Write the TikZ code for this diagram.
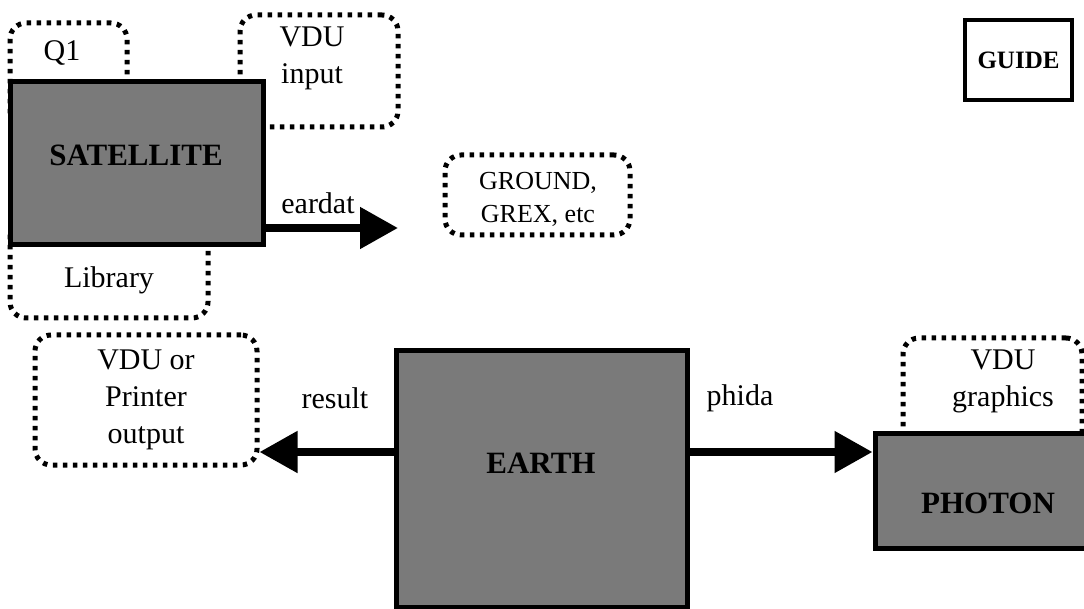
\documentclass[tikz,border=0pt]{standalone}
\usepackage{fontspec}
\setmainfont{Liberation Serif}
\usetikzlibrary{arrows.meta}
\begin{document}
\begin{tikzpicture}[x=1pt,y=-1pt,
  every node/.style={font=\fontsize{30}{37}\selectfont, align=center, inner sep=0pt},
  dotbox/.style={draw, line width=5pt, dash pattern=on 4.5pt off 5.5pt, rounded corners=16pt},
  shadebox/.style={draw, line width=5pt, fill=black!52},
  guidebox/.style={draw, line width=3.5pt, fill=white},
  arr/.style={line width=8pt, -{Triangle[length=38pt,width=40pt]}},
  boldtext/.style={font=\fontsize{31}{37}\selectfont\bfseries}]
\useasboundingbox (0,0) rectangle (1084,609);

% dotted boxes (behind)
\node[dotbox, minimum width=117pt, minimum height=107pt] (q1box) at (68.5,76.5) {};
\node (q1) at (62,53) {Q1};
\node[dotbox, minimum width=158pt, minimum height=112pt] (vduinbox) at (319,71) {};
\node (vduin) at (312,58) {VDU\\input};
\node[dotbox, minimum width=198pt, minimum height=98pt] (libbox) at (109,269) {};
\node (lib) at (109,280) {Library};
\node[dotbox, minimum width=185pt, minimum height=80pt] (ground) at (537.5,195) {};
\node[font=\fontsize{26}{33}\selectfont] (groundt) at (538,199) {GROUND,\\GREX, etc};
\node[dotbox, minimum width=222pt, minimum height=130pt] (vdup) at (146,400) {VDU or\\Printer\\output};
\node[dotbox, minimum width=179pt, minimum height=122pt] (vdugbox) at (992.5,399) {};
\node (vdug) at (1003,381) {VDU\\graphics};

% shaded boxes
\node[shadebox, minimum width=253pt, minimum height=163pt] (sat) at (136.5,163.5) {};
\node[boldtext] (satt) at (136,155) {SATELLITE};
\node[shadebox, minimum width=291pt, minimum height=256pt] (earth) at (541.5,479) {};
\node[boldtext] (eartht) at (541,463) {EARTH};
\node[shadebox, minimum width=220pt, minimum height=115pt] (photon) at (985,490.5) {};
\node[boldtext] (photont) at (988,503) {PHOTON};

\node[guidebox, font=\fontsize{25}{30}\selectfont\bfseries, minimum width=107pt, minimum height=80pt] (guide) at (1018.5,60) {GUIDE};

% connectors
\coordinate (eend) at (398,228);
\coordinate (rowy) at (0,452);
\draw[arr] (sat.east |- eend) -- (eend);
\node (eardat) at (318,203) {eardat};
\draw[arr] (earth.west |- rowy) -- (vdup.east |- rowy);
\node (result) at (335,398) {result};
\draw[arr] (earth.east |- rowy) -- (photon.west |- rowy);
\node (phida) at (740,398) {phida};
\end{tikzpicture}
\end{document}
